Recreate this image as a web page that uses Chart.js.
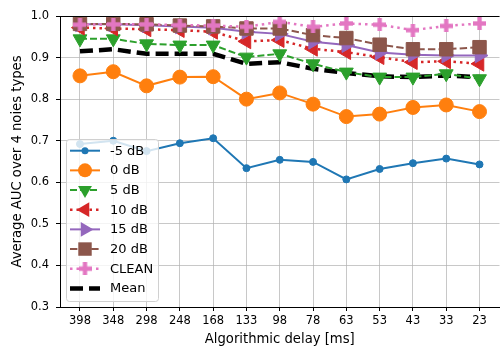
<!DOCTYPE html>
<html>
<head>
<meta charset="utf-8">
<script src="https://cdn.jsdelivr.net/npm/chart.js@4/dist/chart.umd.min.js"></script>
<style>
  html, body { margin: 0; padding: 0; background: #fff; overflow: hidden; }
  #wrap { width: 510px; height: 347px; }
</style>
</head>
<body>
<div id="wrap"><canvas id="aucChart" width="510" height="347"></canvas></div>
<script>
// ===== Données =====
const delayLabels = ["398", "348", "298", "248", "168", "133", "98", "78", "63", "53", "43", "33", "23"];
const yTicks = [0.3, 0.4, 0.5, 0.6, 0.7, 0.8, 0.9, 1.0];

const aucMinus5 = [0.692, 0.700, 0.675, 0.694, 0.706, 0.634, 0.654, 0.649, 0.607, 0.632, 0.646, 0.657, 0.643];
const auc0 = [0.856, 0.866, 0.832, 0.853, 0.854, 0.800, 0.815, 0.788, 0.758, 0.764, 0.780, 0.786, 0.770];
const auc5 = [0.945, 0.945, 0.933, 0.930, 0.930, 0.901, 0.909, 0.885, 0.865, 0.853, 0.853, 0.861, 0.849];
const auc10 = [0.972, 0.970, 0.968, 0.966, 0.962, 0.939, 0.942, 0.921, 0.913, 0.901, 0.889, 0.891, 0.885];
const auc15 = [0.980, 0.980, 0.978, 0.975, 0.972, 0.962, 0.957, 0.938, 0.930, 0.912, 0.907, 0.905, 0.905];
const auc20 = [0.981, 0.981, 0.980, 0.977, 0.975, 0.970, 0.970, 0.954, 0.947, 0.931, 0.920, 0.920, 0.925];
const aucClean = [0.979, 0.980, 0.980, 0.978, 0.977, 0.974, 0.986, 0.974, 0.982, 0.979, 0.966, 0.976, 0.982];
const aucMean = [0.915, 0.920, 0.909, 0.909, 0.909, 0.885, 0.889, 0.873, 0.863, 0.855, 0.853, 0.857, 0.853];

const FONT = "'DejaVu Sans', sans-serif";

// ===== Marqueur "P" (plus plein) =====
function makePlus(size, color) {
    const c = document.createElement("canvas");
    c.width = size;
    c.height = size;
    const g = c.getContext("2d");
    const t = size / 3;
    g.fillStyle = color;
    g.fillRect(t, 0, t, size);
    g.fillRect(0, t, size, t);
    return c;
}
const plusMarker = makePlus(13, "#e377c2");

function toPoints(values) {
    return values.map((v, i) => ({ x: i, y: v }));
}

function series(label, values, color, opts) {
    return Object.assign({
        label: label,
        data: toPoints(values),
        borderColor: color,
        backgroundColor: color,
        pointBackgroundColor: color,
        pointBorderColor: color,
        pointBorderWidth: 1,
        borderWidth: 2,
        tension: 0,
        fill: false,
        pointHoverRadius: 0
    }, opts);
}

const datasets = [
    series("-5 dB", aucMinus5, "#1f77b4", { pointStyle: "circle", pointRadius: 3.5, order: 8 }),
    series("0 dB", auc0, "#ff7f0e", { pointStyle: "circle", pointRadius: 7, order: 7 }),
    series("5 dB", auc5, "#2ca02c", { pointStyle: "triangle", pointRotation: 180, pointRadius: 8, borderDash: [7, 3], order: 6 }),
    series("10 dB", auc10, "#d62728", { pointStyle: "triangle", pointRotation: 270, pointRadius: 8.5, borderDash: [2.5, 4], borderWidth: 2.5, order: 5 }),
    series("15 dB", auc15, "#9467bd", { pointStyle: "triangle", pointRotation: 90, pointRadius: 8.5, order: 4 }),
    series("20 dB", auc20, "#8c564b", { pointStyle: "rect", pointRadius: 9.5, borderDash: [7.4, 3.2], order: 3 }),
    series("CLEAN", aucClean, "#e377c2", { pointStyle: plusMarker, pointRadius: 7, borderDash: [2.5, 4], borderWidth: 2.5, order: 2 }),
    series("Mean", aucMean, "#000000", { pointRadius: 0, borderDash: [13, 6], borderWidth: 4.5, order: 9 })
];

// ===== Marqueurs de légende =====
function drawMarker(ctx, ds, x, y) {
    const r = ds.pointRadius;
    if (!r) return;
    const style = ds.pointStyle;
    ctx.save();
    ctx.fillStyle = ds.pointBackgroundColor;
    if (style === "circle") {
        ctx.beginPath();
        ctx.arc(x, y, r, 0, Math.PI * 2);
        ctx.fill();
    } else if (style === "triangle") {
        const rot = (ds.pointRotation || 0) * Math.PI / 180;
        ctx.beginPath();
        for (let k = 0; k < 3; k++) {
            const a = rot + k * 2 * Math.PI / 3;
            const px = x + Math.sin(a) * r;
            const py = y - Math.cos(a) * r;
            if (k === 0) ctx.moveTo(px, py); else ctx.lineTo(px, py);
        }
        ctx.closePath();
        ctx.fill();
    } else if (style === "rect") {
        const s = r * Math.SQRT1_2;
        ctx.fillRect(x - s, y - s, 2 * s, 2 * s);
    } else if (style instanceof HTMLCanvasElement) {
        ctx.drawImage(style, x - style.width / 2, y - style.height / 2);
    }
    ctx.restore();
}

// ===== Plugin : cadre du haut + légende dans la zone du graphique =====
const framePlugin = {
    id: "frame",
    afterDraw(chart) {
        const ctx = chart.ctx;
        const area = chart.chartArea;
        ctx.save();
        ctx.strokeStyle = "#000";
        ctx.lineWidth = 1;
        ctx.beginPath();
        ctx.moveTo(area.left, area.top + 0.5);
        ctx.lineTo(area.right, area.top + 0.5);
        ctx.stroke();

        // Légende
        const boxX = 66.5, boxY = 139.5, boxW = 92, boxH = 162, step = 19.67;
        ctx.fillStyle = "rgba(255,255,255,0.8)";
        ctx.strokeStyle = "#d0d0d0";
        ctx.beginPath();
        ctx.roundRect(boxX, boxY, boxW, boxH, 3);
        ctx.fill();
        ctx.stroke();

        ctx.font = "13px " + FONT;
        ctx.textBaseline = "middle";
        const legendOrder = ["-5 dB", "0 dB", "5 dB", "10 dB", "15 dB", "20 dB", "CLEAN", "Mean"];
        legendOrder.forEach((name, i) => {
            const ds = datasets.find(d => d.label === name);
            const y = 150.7 + i * step;
            ctx.save();
            ctx.strokeStyle = ds.borderColor;
            ctx.lineWidth = ds.borderWidth;
            ctx.setLineDash(ds.borderDash || []);
            ctx.beginPath();
            ctx.moveTo(70, y);
            ctx.lineTo(100, y);
            ctx.stroke();
            ctx.restore();
            drawMarker(ctx, ds, 85, y);
            ctx.fillStyle = "#000";
            ctx.fillText(name, 110, y + 0.5);
        });
        ctx.restore();
    }
};

new Chart(document.getElementById("aucChart"), {
    type: "line",
    data: { datasets: datasets },
    plugins: [framePlugin],
    options: {
        responsive: false,
        animation: false,
        events: [],
        layout: { padding: { top: 16, right: 2, left: 0, bottom: 0 } },
        plugins: {
            legend: { display: false },
            tooltip: { enabled: false }
        },
        scales: {
            x: {
                type: "linear",
                min: -0.6,
                max: 12.6,
                afterBuildTicks: s => { s.ticks = delayLabels.map((_, i) => ({ value: i })); },
                afterFit: s => { s.height = 40; },
                ticks: {
                    callback: v => delayLabels[v],
                    color: "#000",
                    font: { family: FONT, size: 11.5 },
                    padding: 3,
                    maxRotation: 0,
                    autoSkip: false
                },
                grid: { color: "rgba(176,176,176,0.7)", lineWidth: 1, tickLength: 4, tickColor: "#000" },
                border: { color: "#000", width: 1 },
                title: {
                    display: true,
                    text: "Algorithmic delay [ms]",
                    color: "#000",
                    font: { family: FONT, size: 13.2 },
                    padding: { top: 0, bottom: 0 }
                }
            },
            y: {
                min: 0.3,
                max: 1.0,
                afterBuildTicks: s => { s.ticks = yTicks.map(v => ({ value: v })); },
                afterFit: s => { s.width = 60; },
                ticks: {
                    callback: v => v.toFixed(1),
                    color: "#000",
                    font: { family: FONT, size: 11.5 },
                    padding: 7
                },
                grid: { color: "rgba(176,176,176,0.7)", lineWidth: 1, tickLength: 4, tickColor: "#000" },
                border: { color: "#000", width: 1 },
                title: {
                    display: true,
                    text: "Average AUC over 4 noies types",
                    color: "#000",
                    font: { family: FONT, size: 13.2 },
                    padding: { top: 9.5, bottom: 0 }
                }
            }
        }
    }
});
</script>
</body>
</html>
